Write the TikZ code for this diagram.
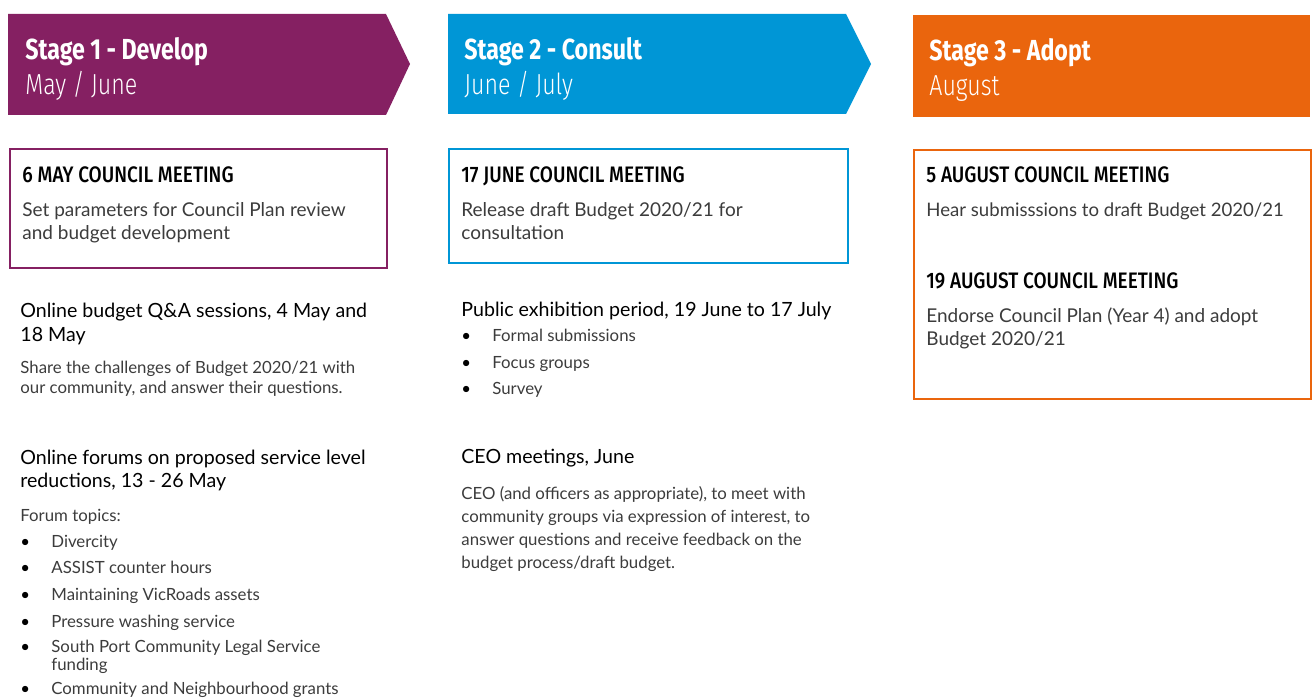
\documentclass[tikz,border=0pt]{standalone}
\usepackage{fontspec}
\setmainfont{Lato}
\newfontfamily\headfont[FakeStretch=0.8]{Fira Sans}
\newfontfamily\meetfont[FakeStretch=0.85]{Fira Sans Medium}
\newfontfamily\lighthead[FakeStretch=0.8]{Fira Sans Light}

\definecolor{devpurple}{RGB}{133,32,98}
\definecolor{conblue}{RGB}{0,150,214}
\definecolor{adoptorange}{RGB}{234,101,13}
\definecolor{bodygray}{RGB}{60,60,60}

% bullet with a fixed indent
\newcommand{\itm}[1]{\makebox[15.5pt][l]{\textcolor{black}{\textbullet}}#1}

\begin{document}
\begin{tikzpicture}[x=0.5pt,y=-0.5pt,
    stagetitle/.style={anchor=base west, inner sep=0, text=white, font=\headfont\bfseries\fontsize{14.5}{16}\selectfont},
    stagemonth/.style={anchor=base west, inner sep=0, text=white, font=\lighthead\fontsize{14.5}{16}\selectfont},
    meetbox/.style={draw=#1, line width=0.8pt, anchor=north west, inner sep=0, fill=white},
    meethead/.style={anchor=base west, inner sep=0, font=\meetfont\fontsize{11.2}{13}\selectfont},
    boxtext/.style={anchor=base west, inner sep=0, align=left, text=bodygray, font=\fontsize{9.5}{11.5}\selectfont},
    subhead/.style={anchor=base west, inner sep=0, align=left, font=\fontsize{9.8}{12}\selectfont},
    smalltext/.style={anchor=base west, inner sep=0, align=left, text=bodygray, font=\fontsize{8.4}{10.3}\selectfont}]
  \useasboundingbox (0,0) rectangle (1314,700);

  % stage banners
  \fill[devpurple] (8,14) -- (386,14) -- (410,64) -- (386,115) -- (8,115) -- cycle;
  \fill[conblue] (448,14) -- (846,14) -- (871,64) -- (846,114) -- (448,114) -- cycle;
  \fill[adoptorange] (913,15) rectangle (1310,117);

  \node (s1) [stagetitle] at (25,60) {Stage 1 - Develop};
  \node (m1) [stagemonth] at (25,95) {May / June};
  \node (s2) [stagetitle] at (464,60) {Stage 2 - Consult};
  \node (m2) [stagemonth] at (464,95) {June / July};
  \node (s3) [stagetitle] at (929,61) {Stage 3 - Adopt};
  \node (m3) [stagemonth] at (929,96) {August};

  % council meetings (multi-line texts sit on their last baseline)
  \node (box1) [meetbox=devpurple, minimum width=188.5pt, minimum height=59.5pt] at (9,148) {};
  \node (box2) [meetbox=conblue, minimum width=199.5pt, minimum height=57pt] at (448,148) {};
  \node (box3) [meetbox=adoptorange, minimum width=198.5pt, minimum height=124.5pt] at (913,149) {};

  \node (h1) [meethead] at (22,183) {6 MAY COUNCIL MEETING};
  \node (t1) [boxtext] at (22,240) {Set parameters for Council Plan review\\and budget development};
  \node (h2) [meethead] at (461,183) {17 JUNE COUNCIL MEETING};
  \node (t2) [boxtext] at (461,240) {Release draft Budget 2020/21 for\\consultation};
  \node (h3) [meethead] at (926,183) {5 AUGUST COUNCIL MEETING};
  \node (t3) [boxtext, font=\fontsize{9.3}{11.5}\selectfont] at (926,217) {Hear submisssions to draft Budget 2020/21};
  \node (h4) [meethead] at (926,289) {19 AUGUST COUNCIL MEETING};
  \node (t4) [boxtext] at (926,346) {Endorse Council Plan (Year 4) and adopt\\Budget 2020/21};

  % stage 1 activities
  \node (qa) [subhead] at (20,342) {Online budget Q\&A sessions, 4 May and\\18 May};
  \node (qatext) [smalltext] at (20,394) {Share the challenges of Budget 2020/21 with\\our community, and answer their questions.};
  \node (forum) [subhead] at (20,488) {Online forums on proposed service level\\reductions, 13 - 26 May};
  \node (topics) [smalltext] at (20,522) {Forum topics:};
  \node (f1) [smalltext] at (20,548) {\itm{Divercity}};
  \node (f2) [smalltext] at (20,574) {\itm{ASSIST counter hours}};
  \node (f3) [smalltext] at (20,601) {\itm{Maintaining VicRoads assets}};
  \node (f4) [smalltext] at (20,628) {\itm{Pressure washing service}};
  \node (f5) [smalltext, font=\fontsize{8.4}{7.5}\selectfont] at (20,670) {\itm{South Port Community Legal Service}\\\hspace*{15.5pt}funding};
  \node (f6) [smalltext] at (20,695) {\itm{Community and Neighbourhood grants}};

  % stage 2 activities
  \node (pub) [subhead] at (461,317) {Public exhibition period, 19 June to 17 July};
  \node (p1) [smalltext] at (461,342) {\itm{Formal submissions}};
  \node (p2) [smalltext] at (461,369) {\itm{Focus groups}};
  \node (p3) [smalltext] at (461,395) {\itm{Survey}};
  \node (ceo) [subhead] at (461,464) {CEO meetings, June};
  \node (ceotext) [smalltext, font=\fontsize{8.4}{11.5}\selectfont] at (461,568) {CEO (and officers as appropriate), to meet with\\community groups via expression of interest, to\\answer questions and receive feedback on the\\budget process/draft budget.};
\end{tikzpicture}
\end{document}
